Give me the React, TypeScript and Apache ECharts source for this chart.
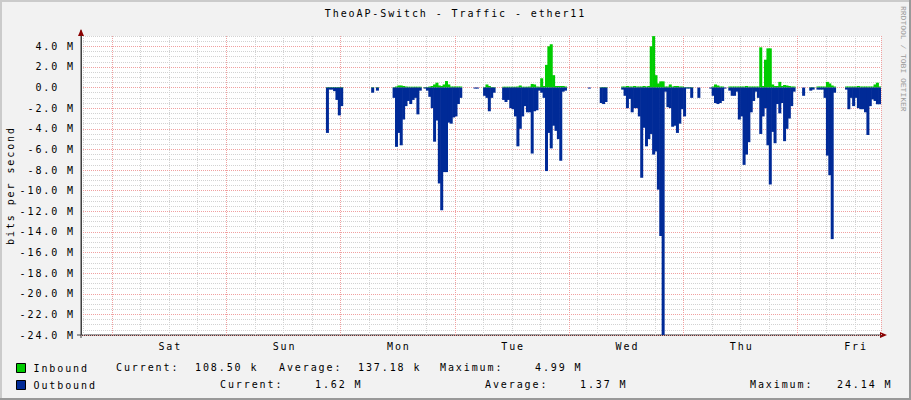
import React, { useEffect, useRef } from 'react';
import * as echarts from 'echarts';

const _ = null;

const TITLE = 'TheoAP-Switch - Traffic - ether11';
const Y_NAME = 'bits per second';
const WATERMARK = 'RRDTOOL / TOBI OETIKER';
const DAY_LABELS = ['Sat', 'Sun', 'Mon', 'Tue', 'Wed', 'Thu', 'Fri'];
const SERIES_NAMES = ['Inbound', 'Outbound'];
const START_HOUR = -6.5; // first 30-min sample, hours relative to Sat 00:00
const STEP_HOURS = 0.5;

// ---- Outbound, Mbit/s (drawn downward), 30-minute samples ----
const OUT_FRI_EVE = [_, _, _, _, _, _, _, _, _, _, _, _, _];
const OUT_SAT = [
  _, _, _, _, _, _, _, _, _, _, _, _,
  _, _, _, _, _, _, _, _, _, _, _, _,
  _, _, _, _, _, _, _, _, _, _, _, _,
  _, _, _, _, _, _, _, _, _, _, _, _,
];
const OUT_SUN = [
  _, _, _, _, _, _, _, _, _, _, _, _,
  _, _, _, _, _, _, _, _, _, _, _, _,
  _, _, _, _, _, _, _, _, _, _, _, _,
  _, _, _, _, _, _, 4.4, 0.2, 0.2, 0.35, 1.2, 2.7,
];
const OUT_MON = [
  1.8, _, _, _, _, _, _, _, _, _, _, _,
  _, 0.5, _, 0.3, _, _, _, _, _, _, 1.0, 5.75,
  4.4, 5.6, 3.1, 1.8, 1.3, 1.6, 1.2, 1.0, 2.6, 0.3, _, 0.1,
  0.3, 0.9, 2.0, 5.25, 3.2, 9.3, 11.9, 8.2, 8.2, 3.4, 3.5, 2.9,
];
const OUT_TUE = [
  2.8, 1.6, 1.0, _, _, _, _, _, 0.1, 0.1, _, _,
  0.8, 1.0, 2.3, 1.0, 0.5, _, _, _, 1.2, 1.4, 1.2, 2.0,
  2.1, 2.8, 5.7, 4.0, 2.8, 1.8, 2.4, 2.4, 6.4, 2.3, 2.2, 0.3,
  0.5, 1.0, 8.1, 4.4, 5.9, 3.7, 4.2, 5.0, 7.1, 0.4, 0.3, _,
];
const OUT_WED = [
  _, _, _, _, _, _, _, _, 0.1, _, _, _,
  _, 1.5, 1.6, 1.4, _, _, _, _, _, _, 0.2, 0.8,
  2.0, 1.1, 2.4, 2.0, 2.0, 2.8, 8.75, 3.9, 5.7, 5.0, 4.5, 6.5,
  6.2, 9.9, 14.4, 24.14, 0.4, 1.9, 2.0, 3.8, 3.7, 4.4, 3.5, 2.1,
];
const OUT_THU = [
  2.8, 0.1, 0.1, 1.0, _, _, 1.0, _, _, _, _, 0.1,
  0.8, 1.5, 1.6, 1.5, 1.3, 0.1, _, 0.3, 0.8, 0.8, 0.4, 3.1,
  2.8, 7.5, 6.5, 5.3, 2.4, 1.3, 0.4, 1.0, 4.5, 2.8, 2.0, 5.6,
  9.4, 4.3, 5.4, 1.6, 2.5, 1.5, 5.2, 4.0, 3.0, 1.8, 0.4, _,
];
const OUT_FRI = [
  _, _, 0.8, _, _, 0.3, 0.2, _, 0.2, 0.2, 0.2, 1.0,
  6.6, 8.5, 14.7, 0.5, _, _, _, _, 0.2, 2.1, 1.0, 1.8,
  1.0, 2.0, 2.1, 2.1, 2.4, 4.6, 1.8, 1.15, 1.3, 1.62, 1.62,
];

// ---- Inbound, Mbit/s (drawn upward), 30-minute samples ----
const IN_FRI_EVE = [_, _, _, _, _, _, _, _, _, _, _, _, _];
const IN_SAT = [
  _, _, _, _, _, _, _, _, _, _, _, _,
  _, _, _, _, _, _, _, _, _, _, _, _,
  _, _, _, _, _, _, _, _, _, _, _, _,
  _, _, _, _, _, _, _, _, _, _, _, _,
];
const IN_SUN = [
  _, _, _, _, _, _, _, _, _, _, _, _,
  _, _, _, _, _, _, _, _, _, _, _, _,
  _, _, _, _, _, _, _, _, _, _, _, _,
  _, _, _, _, _, _, 0.05, 0.05, 0.05, 0.05, 0.05, 0.05,
];
const IN_MON = [
  0.05, _, _, _, _, _, _, _, _, _, _, _,
  _, 0.05, _, 0.05, _, _, _, _, _, _, 0.05, 0.1,
  0.2, 0.2, 0.15, 0.1, 0.08, 0.08, 0.08, 0.08, 0.08, 0.08, _, 0.05,
  0.05, 0.1, 0.15, 0.3, 0.47, 0.2, 0.15, 0.3, 0.63, 0.3, 0.1, 0.1,
];
const IN_TUE = [
  0.1, 0.1, 0.1, _, _, _, _, _, _, _, _, _,
  0.05, 0.3, 0.15, 0.05, 0.05, _, _, _, 0.08, 0.08, 0.08, 0.08,
  0.08, 0.08, 0.1, 0.2, 0.08, 0.08, 0.08, 0.1, 0.35, 0.3, 0.1, 0.08,
  0.9, 0.15, 2.2, 4.0, 4.2, 1.2, 0.15, 0.15, 0.15, 0.15, 0.1, _,
];
const IN_WED = [
  _, _, _, _, _, _, _, _, _, _, _, _,
  _, 0.05, 0.05, 0.05, _, _, _, _, _, _, 0.1, 0.1,
  0.15, 0.1, 0.1, 0.15, 0.1, 0.1, 0.1, 0.15, 0.1, 0.15, 4.0, 4.99,
  1.2, 0.4, 0.6, 0.6, 0.1, 0.1, 0.3, 0.1, 0.15, 0.15, 0.1, 0.1,
];
const IN_THU = [
  0.05, 0.05, 0.05, 0.05, _, _, _, _, _, _, _, _,
  0.1, 0.3, 0.2, 0.1, 0.1, _, _, 0.1, 0.1, 0.1, 0.1, 0.1,
  0.1, 0.1, 0.15, 0.1, 0.1, 0.1, 0.1, 0.1, 3.9, 0.15, 2.7, 3.8,
  3.8, 0.3, 0.15, 0.15, 0.55, 0.15, 0.25, 0.2, 0.15, 0.1, 0.1, _,
];
const IN_FRI = [
  _, _, _, _, _, 0.05, 0.05, _, 0.1, 0.1, 0.1, 0.1,
  0.55, 0.4, 0.2, 0.1, _, _, _, _, 0.1, 0.1, 0.1, 0.1,
  0.1, 0.15, 0.1, 0.1, 0.1, 0.1, 0.1, 0.1, 0.3, 0.47, 0.1085,
];

// ---- Legend statistics ----
const STAT_LABELS = ['Current:', 'Average:', 'Maximum:'];
const INBOUND_STATS = ['108.50 k', '137.18 k', '4.99 M'];
const OUTBOUND_STATS = ['1.62 M', '1.37 M', '24.14 M'];

const OUTBOUND = [...OUT_FRI_EVE, ...OUT_SAT, ...OUT_SUN, ...OUT_MON, ...OUT_TUE, ...OUT_WED, ...OUT_THU, ...OUT_FRI];
const INBOUND = [...IN_FRI_EVE, ...IN_SAT, ...IN_SUN, ...IN_MON, ...IN_TUE, ...IN_WED, ...IN_THU, ...IN_FRI];

const FONT = 'DejaVu Sans Mono';
const GREEN = '#00cc00';
const BLUE = '#002a97';
const MINOR = '#d2d2d2';
const MAJOR = '#f0a0a0';
const AXIS = '#404040';
const ARROW = '#8b0000';

const mod = (a: number, n: number) => ((a % n) + n) % n;

export default function App() {
  const ref = useRef<HTMLDivElement>(null);

  useEffect(() => {
    if (!ref.current) return;
    const chart = echarts.init(ref.current, undefined, { renderer: 'svg' });
    const hours = OUTBOUND.map((__, i) => START_HOUR + i * STEP_HOURS);
    const cats = hours.map((h) => String(h));

    const rowLabelX = [[116, 279, 440], [220, 485, 750]];
    const rowValueX = [[195, 358, 535], [315, 580, 837]];
    const rowY = [367, 384];
    const statTexts: any[] = [];
    [INBOUND_STATS, OUTBOUND_STATS].forEach((vals, r) => {
      vals.forEach((v, k) => {
        statTexts.push({
          type: 'text', x: rowLabelX[r][k], y: rowY[r], silent: true,
          style: { text: STAT_LABELS[k], fontFamily: FONT, fontSize: 10, fill: '#000', align: 'left', verticalAlign: 'middle' },
        });
        statTexts.push({
          type: 'text', x: rowValueX[r][k], y: rowY[r], silent: true,
          style: { text: v, fontFamily: FONT, fontSize: 10, fill: '#000', align: 'left', verticalAlign: 'middle' },
        });
      });
    });

    const fmtY = (v: number) => (v === 0 ? '0.0\u00a0\u00a0' : `${v.toFixed(1)} M`);

    chart.setOption({
      animation: false,
      backgroundColor: '#f2f2f2',
      textStyle: { fontFamily: FONT, fontSize: 10, color: '#000' },
      title: {
        text: TITLE, left: 'center', top: 2,
        textStyle: { fontFamily: FONT, fontSize: 10, fontWeight: 'normal', color: '#000', lineHeight: 12 },
      },
      grid: {
        left: 81, right: 30, top: 36, bottom: 65, show: true, backgroundColor: '#ffffff',
        borderWidth: 0, containLabel: false, outerBoundsMode: 'none',
      },
      legend: {
        orient: 'vertical', left: 11, top: 358, itemWidth: 9, itemHeight: 9, itemGap: 7,
        selectedMode: false, icon: 'rect', data: SERIES_NAMES,
        itemStyle: { borderColor: '#000', borderWidth: 1 },
        textStyle: { fontFamily: FONT, fontSize: 10, color: '#000', padding: [0, 0, 0, 3], lineHeight: 10 },
      },
      xAxis: [
        {
          type: 'category', data: cats, boundaryGap: true, gridIndex: 0, position: 'bottom', z: 1,
          axisLine: { show: true, onZero: false, lineStyle: { color: AXIS, width: 1 } },
          axisTick: { show: false },
          axisLabel: {
            interval: (i: number) => mod(hours[i], 24) === 12,
            formatter: (v: string) => DAY_LABELS[Math.floor(Number(v) / 24)] || '',
            margin: 6, color: '#000', fontFamily: FONT, fontSize: 10,
          },
          splitLine: {
            show: true,
            interval: (i: number) => mod(hours[i], 6) === 0 && mod(hours[i], 24) !== 0,
            lineStyle: { color: MINOR, type: [1, 1], width: 1 },
          },
        },
        {
          type: 'category', data: cats, boundaryGap: true, gridIndex: 0, position: 'bottom', z: 2,
          axisLine: { show: false }, axisTick: { show: false }, axisLabel: { show: false },
          splitLine: {
            show: true,
            interval: (i: number) => mod(hours[i], 24) === 0,
            lineStyle: { color: MAJOR, type: [1, 1], width: 1 },
          },
        },
      ],
      yAxis: [
        {
          type: 'value', min: -24, max: 5, interval: 2, position: 'left', z: 2,
          axisLine: { show: true, onZero: false, lineStyle: { color: AXIS, width: 1 } },
          axisTick: { show: false },
          axisLabel: { margin: 6, showMaxLabel: false, formatter: fmtY, color: '#000', fontFamily: FONT, fontSize: 10 },
          splitLine: { show: true, showMaxLine: false, lineStyle: { color: MAJOR, type: [1, 1], width: 1 } },
          name: Y_NAME, nameLocation: 'middle', nameRotate: 90, nameGap: 66,
          nameTextStyle: { fontFamily: FONT, fontSize: 10, color: '#000' },
        },
        {
          type: 'value', min: -24, max: 5, interval: 0.5, position: 'right', z: 0,
          axisLine: { show: false }, axisTick: { show: false }, axisLabel: { show: false },
          splitLine: { show: true, lineStyle: { color: MINOR, type: [1, 1], width: 1 } },
        },
      ],
      series: [
        {
          name: SERIES_NAMES[0], type: 'bar', xAxisIndex: 0, yAxisIndex: 0, data: INBOUND,
          barWidth: 3, barGap: '-100%', clip: true, z: 3,
          itemStyle: { color: GREEN },
          emphasis: { disabled: true },
        },
        {
          name: SERIES_NAMES[1], type: 'bar', xAxisIndex: 0, yAxisIndex: 0,
          data: OUTBOUND.map((v) => (v == null ? null : -v)),
          barWidth: 3, barGap: '-100%', clip: true, z: 3,
          itemStyle: { color: BLUE },
          emphasis: { disabled: true },
        },
      ],
      graphic: [
        { type: 'rect', silent: true, shape: { x: 0, y: 0, width: 911, height: 2 }, style: { fill: '#cbcbcb' } },
        { type: 'rect', silent: true, shape: { x: 0, y: 0, width: 2, height: 400 }, style: { fill: '#cbcbcb' } },
        { type: 'rect', silent: true, shape: { x: 909, y: 0, width: 2, height: 400 }, style: { fill: '#999999' } },
        { type: 'rect', silent: true, shape: { x: 0, y: 398, width: 911, height: 2 }, style: { fill: '#999999' } },
        { type: 'line', silent: true, shape: { x1: 81, y1: 30, x2: 81, y2: 338 }, style: { stroke: AXIS, lineWidth: 1 } },
        { type: 'line', silent: true, shape: { x1: 77, y1: 335, x2: 884, y2: 335 }, style: { stroke: AXIS, lineWidth: 1 } },
        { type: 'polygon', silent: true, shape: { points: [[78, 36], [84, 36], [81, 29]] }, style: { fill: ARROW } },
        { type: 'polygon', silent: true, shape: { points: [[880, 332], [880, 338], [887, 335]] }, style: { fill: ARROW } },
        {
          type: 'text', x: 903, y: 6, rotation: -Math.PI / 2, silent: true,
          style: { text: WATERMARK, fontFamily: 'Liberation Mono', fontSize: 8, fill: '#9a9a9a', align: 'left', verticalAlign: 'middle' },
        },
        ...statTexts,
      ],
    });

    return () => chart.dispose();
  }, []);

  return (
    <>
      <style>{`.rrd-chart text[style*="DejaVu"] { letter-spacing: 0.19em; }`}</style>
      <div
        ref={ref}
        className="rrd-chart"
        style={{ position: 'fixed', left: 0, top: 0, width: 911, height: 400 }}
      />
    </>
  );
}
